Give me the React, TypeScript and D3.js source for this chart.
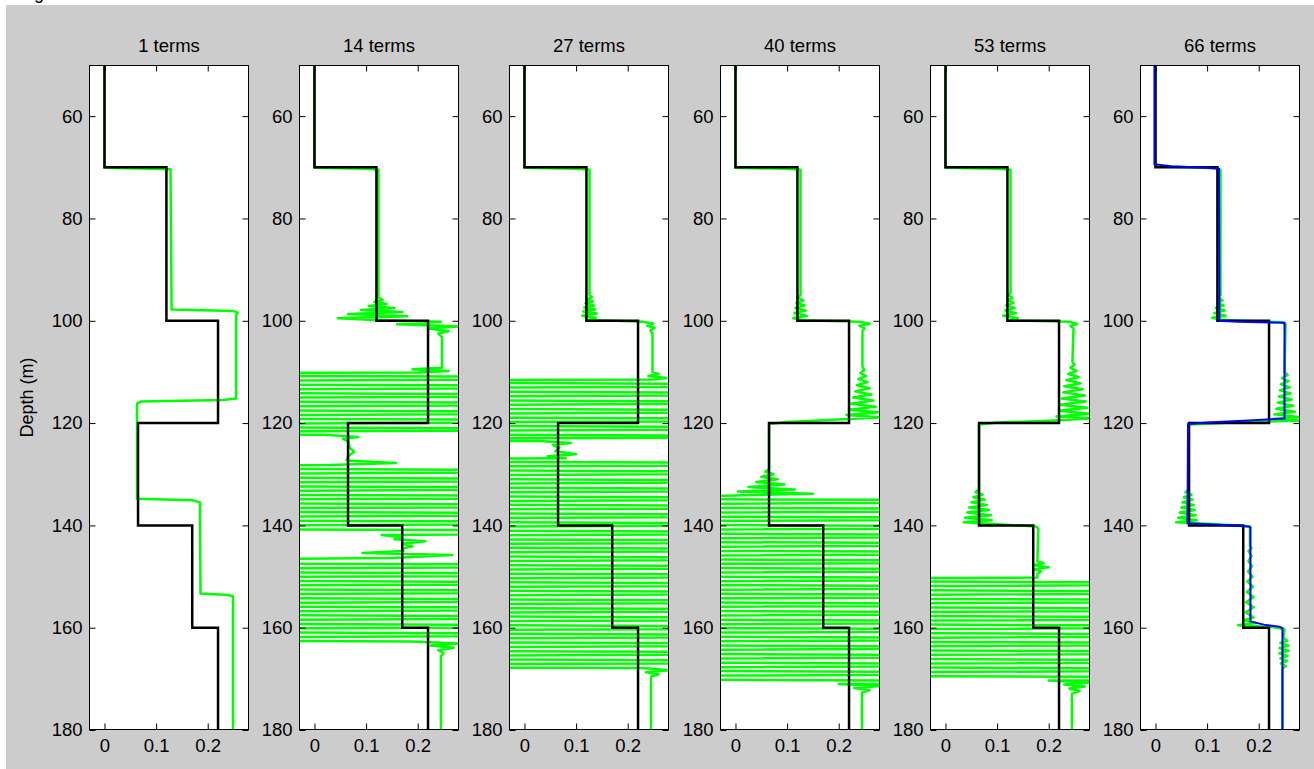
import React, { useEffect, useRef } from 'react';
import * as d3 from 'd3';

// ---- data ----
const panelTitles = ['1 terms', '14 terms', '27 terms', '40 terms', '53 terms', '66 terms'];
const depthTicks = [60, 80, 100, 120, 140, 160, 180];
const valueTicks = [0, 0.1, 0.2];
const depthDomain: [number, number] = [50, 180];
const valueDomain: [number, number] = [-0.03, 0.28];

// true layered model (black)
const modelTops = [50, 70, 100, 120, 140, 160];
const modelValues = [0, 0.12, 0.22, 0.065, 0.17, 0.22];
const modelBottom = 180;

// depths where the unstable fits swing off scale (dense green bands)
const band14a = [110.4, 111.2, 112.1, 112.9, 113.8, 114.6, 115.4, 116.3, 117.1, 118.0, 118.8, 119.6, 120.5, 121.3, 121.9];
const band14b = [128.6, 129.4, 130.3, 131.1, 132.0, 132.8, 133.6, 134.5, 135.3, 136.2, 137.0, 137.8, 138.7, 139.5, 140.4, 141.2];
const band14c = [147.1, 147.9, 148.8, 149.6, 150.5, 151.3, 152.1, 153.0, 153.8, 154.7, 155.5, 156.3, 157.2, 158.0, 158.9, 159.7, 160.5, 161.4, 162.2];
const band27a = [111.8, 112.6, 113.5, 114.3, 115.2, 116.0, 116.8, 117.7, 118.5, 119.4, 120.2, 121.0, 121.9, 122.7, 123.2];
const band27b = [127.2, 128.0, 128.9, 129.7, 130.6, 131.4, 132.2, 133.1, 133.9, 134.8, 135.6, 136.4, 137.3, 138.1, 139.0, 139.8, 140.6, 141.5, 142.3, 143.2, 144.0, 144.8, 145.7, 146.5, 147.4, 148.2, 149.0, 149.9, 150.7, 151.6, 152.4, 153.2, 154.1, 154.9, 155.8, 156.6, 157.4, 158.3, 159.1, 160.0, 160.8, 161.6, 162.5, 163.3, 164.2, 165.0, 165.8, 166.7, 167.5];
const band40 = [134.5, 135.3, 136.2, 137.0, 137.9, 138.7, 139.5, 140.4, 141.2, 142.1, 142.9, 143.7, 144.6, 145.4, 146.3, 147.1, 147.9, 148.8, 149.6, 150.5, 151.3, 152.1, 153.0, 153.8, 154.7, 155.5, 156.3, 157.2, 158.0, 158.9, 159.7, 160.5, 161.4, 162.2, 163.1, 163.9, 164.7, 165.6, 166.4, 167.3, 168.1, 168.9, 169.8, 170.6];
const band53 = [150.6, 151.4, 152.3, 153.1, 154.0, 154.8, 155.6, 156.5, 157.3, 158.2, 159.0, 159.8, 160.7, 161.5, 162.4, 163.2, 164.0, 164.9, 165.7, 166.6, 167.4, 168.2, 169.1, 169.9];

type Pt = [number, number]; // [depth, value]

// off-scale swings alternate far left / far right
function swing(depths: number[]): Pt[] {
  return depths.map((d, i) => [d, i % 2 === 0 ? -1 : 1] as Pt);
}

const green1: Pt[] = [
  [50, 0], [70.1, 0], [70.3, 0.09], [70.4, 0.128], [71, 0.128], [97.8, 0.13], [98.1, 0.25], [98.4, 0.258],
  [99, 0.255], [115.2, 0.255], [115.5, 0.23], [115.8, 0.07], [116.2, 0.063], [134.8, 0.063], [135.1, 0.17],
  [135.5, 0.185], [153.3, 0.186], [153.6, 0.24], [153.9, 0.249], [180, 0.249],
];

const green14: Pt[] = [
  [50, 0], [70.1, 0], [70.3, 0.1], [70.5, 0.124], [95.5, 0.124], [95.9, 0.132], [96.3, 0.116], [96.7, 0.14],
  [97.1, 0.105], [97.5, 0.155], [97.9, 0.09], [98.3, 0.17], [98.7, 0.065], [99.1, 0.18], [99.5, 0.045],
  [99.9, 0.125], [100.2, 0.245], [100.7, 0.16], [101.1, 0.28], [101.5, 0.22], [102, 0.26], [102.5, 0.24],
  [103.2, 0.247], [109.2, 0.247], [109.5, 0.19], [109.8, 0.26], [110.1, 0.2],
  ...swing(band14a),
  [122.3, 0.02], [122.7, 0.085], [123.1, 0.055], [123.6, 0.066], [124.8, 0.068], [125.6, 0.077], [126.4, 0.066],
  [127.3, 0.062], [127.8, 0.158], [128.2, 0.03],
  ...swing(band14b),
  [141.9, 0.13], [142.3, 0.168], [142.7, 0.155], [143.1, 0.215], [143.6, 0.17], [144.1, 0.19], [144.5, 0.172],
  [145.0, 0.172], [145.4, 0.093], [145.8, 0.267], [146.4, 0.15],
  ...swing(band14c),
  [162.7, 0.19], [163.1, 0.28], [163.5, 0.225], [163.9, 0.27], [164.4, 0.24], [165, 0.25], [165.6, 0.245], [180, 0.245],
];

const green27: Pt[] = [
  [50, 0], [70.1, 0], [70.3, 0.1], [70.5, 0.126], [95, 0.126], [95.4, 0.131], [95.8, 0.121], [96.2, 0.133],
  [96.6, 0.118], [97.0, 0.135], [97.4, 0.116], [97.8, 0.137], [98.2, 0.114], [98.6, 0.14], [99.0, 0.112],
  [99.4, 0.138], [99.8, 0.125], [100.2, 0.23], [100.6, 0.25], [101.0, 0.238], [101.4, 0.252], [101.9, 0.244],
  [102.5, 0.248], [110, 0.248], [110.4, 0.26], [110.8, 0.24], [111.2, 0.275], [111.5, 0.25],
  ...swing(band27a),
  [123.5, 0.03], [123.9, 0.09], [124.3, 0.055], [124.8, 0.068], [125.5, 0.06], [126.1, 0.1], [126.5, 0.045], [126.9, 0.08],
  ...swing(band27b),
  [167.9, 0.23], [168.3, 0.28], [168.7, 0.235], [169.1, 0.26], [169.6, 0.245], [180, 0.245],
];

const green40: Pt[] = [
  [50, 0], [70.1, 0], [70.3, 0.1], [70.5, 0.126], [95, 0.126], [95.5, 0.12], [96, 0.132], [96.5, 0.118],
  [97, 0.134], [97.5, 0.116], [98, 0.136], [98.5, 0.114], [99, 0.138], [99.5, 0.112], [99.9, 0.13],
  [100.2, 0.24], [100.6, 0.26], [101.0, 0.24], [101.5, 0.25], [102, 0.246], [109, 0.246], [109.6, 0.25],
  [110.2, 0.242], [110.8, 0.253], [111.4, 0.238], [112, 0.256], [112.6, 0.235], [113.2, 0.26], [113.8, 0.232],
  [114.4, 0.263], [115, 0.228], [115.6, 0.267], [116.2, 0.224], [116.8, 0.272], [117.4, 0.22], [117.9, 0.278],
  [118.4, 0.215], [118.9, 0.285], [119.3, 0.2], [119.8, 0.1], [120.2, 0.065], [129, 0.065], [129.5, 0.058],
  [130, 0.074], [130.5, 0.05], [131, 0.082], [131.5, 0.04], [132, 0.095], [132.5, 0.025], [133, 0.115],
  [133.4, 0.005], [133.8, 0.15], [134.2, -0.02],
  ...swing(band40),
  [171.0, 0.2], [171.4, 0.28], [171.8, 0.23], [172.2, 0.26], [172.7, 0.245], [180, 0.245],
];

const green53: Pt[] = [
  [50, 0], [70.1, 0], [70.3, 0.1], [70.5, 0.126], [94.5, 0.126], [95, 0.122], [95.5, 0.13], [96, 0.12],
  [96.5, 0.132], [97, 0.118], [97.5, 0.134], [98, 0.116], [98.5, 0.137], [99, 0.112], [99.5, 0.14],
  [99.9, 0.125], [100.2, 0.24], [100.6, 0.255], [101, 0.242], [101.5, 0.248], [108, 0.246], [108.6, 0.25],
  [109.2, 0.242], [109.8, 0.254], [110.4, 0.238], [111, 0.258], [111.6, 0.234], [112.2, 0.262], [112.8, 0.23],
  [113.4, 0.266], [114, 0.228], [114.6, 0.27], [115.2, 0.225], [115.8, 0.272], [116.4, 0.222], [117, 0.275],
  [117.6, 0.22], [118.2, 0.28], [118.7, 0.215], [119.1, 0.285], [119.5, 0.21], [119.9, 0.1], [120.3, 0.065],
  [133, 0.065], [133.5, 0.058], [134, 0.072], [134.5, 0.054], [135, 0.076], [135.5, 0.05], [136, 0.08],
  [136.5, 0.046], [137, 0.084], [137.5, 0.042], [138, 0.088], [138.5, 0.038], [139, 0.09], [139.4, 0.035],
  [139.8, 0.1], [140.2, 0.175], [140.6, 0.18], [147, 0.178], [147.4, 0.19], [147.8, 0.17], [148.2, 0.2],
  [148.6, 0.172], [149, 0.185], [149.5, 0.178], [150.2, 0.178],
  ...swing(band53),
  [170.3, 0.2], [170.7, 0.28], [171.1, 0.23], [171.5, 0.27], [171.9, 0.24], [172.4, 0.26], [172.9, 0.245], [180, 0.245],
];

const green66: Pt[] = [
  [50, 0], [69.8, 0], [70.2, 0.12], [70.5, 0.126], [95, 0.126], [95.5, 0.122], [96, 0.13], [96.5, 0.12],
  [97, 0.132], [97.5, 0.117], [98, 0.134], [98.5, 0.114], [99, 0.136], [99.4, 0.11], [99.8, 0.126],
  [100.3, 0.245], [100.7, 0.252], [110, 0.25], [110.6, 0.256], [111.2, 0.245], [111.8, 0.258], [112.4, 0.243],
  [113, 0.26], [113.6, 0.241], [114.2, 0.262], [114.8, 0.239], [115.4, 0.264], [116, 0.237], [116.6, 0.267],
  [117.2, 0.234], [117.8, 0.27], [118.3, 0.23], [118.8, 0.278], [119.2, 0.228], [119.5, 0.285], [119.9, 0.15],
  [120.3, 0.064], [133, 0.064], [133.5, 0.058], [134, 0.07], [134.5, 0.055], [135, 0.072], [135.5, 0.052],
  [136, 0.074], [136.5, 0.05], [137, 0.076], [137.5, 0.047], [138, 0.078], [138.5, 0.044], [139, 0.08],
  [139.4, 0.04], [139.8, 0.12], [140.2, 0.183], [144, 0.183], [144.5, 0.186], [145, 0.18], [146, 0.186],
  [147, 0.18], [148, 0.187], [149, 0.179], [150, 0.188], [151, 0.178], [152, 0.189], [153, 0.177], [154, 0.19],
  [155, 0.176], [156, 0.19], [157, 0.175], [158, 0.19], [158.6, 0.17], [159.1, 0.195], [159.5, 0.16],
  [159.9, 0.23], [160.3, 0.25], [162, 0.248], [162.5, 0.255], [163, 0.242], [163.5, 0.258], [164, 0.24],
  [164.5, 0.258], [165, 0.24], [165.5, 0.256], [166, 0.242], [166.5, 0.255], [167, 0.243], [167.5, 0.253],
  [168, 0.246], [180, 0.246],
];

// final smooth estimate, only on the last panel
const blue66: Pt[] = [
  [50, -0.002], [69.4, -0.002], [69.8, 0.03], [70.1, 0.1], [70.3, 0.123], [100, 0.124], [100.2, 0.16],
  [100.4, 0.25], [119.1, 0.25], [119.5, 0.18], [119.9, 0.1], [120.2, 0.063], [139.6, 0.062], [139.9, 0.12],
  [140.2, 0.18], [140.4, 0.184], [158.8, 0.184], [159.4, 0.21], [159.8, 0.24], [160.1, 0.246], [180, 0.246],
];

const greenSeries = [green1, green14, green27, green40, green53, green66];

const FONT = '"Liberation Sans", Arial, Helvetica, sans-serif';

export default function App() {
  const ref = useRef<SVGSVGElement>(null);

  useEffect(() => {
    const svg = d3.select(ref.current);
    svg.selectAll('*').remove();

    const W = 1314, H = 769;
    const top = 65, bottom = 730, panelW = 160;

    svg.append('rect').attr('width', W).attr('height', H).attr('fill', '#ffffff');
    svg.append('rect').attr('x', 6).attr('y', 5).attr('width', W - 6).attr('height', H - 5).attr('fill', '#cccccc');
    // cut-off window caption, as in the screenshot
    svg.append('text').attr('x', 34).attr('y', -1).style('font-family', FONT).style('font-size', '18px').text('g');

    const y = d3.scaleLinear().domain(depthDomain).range([top, bottom]);

    // black step model as points
    const modelPts: Pt[] = [];
    modelValues.forEach((v, i) => {
      modelPts.push([modelTops[i], v]);
      modelPts.push([i + 1 < modelTops.length ? modelTops[i + 1] : modelBottom, v]);
    });

    panelTitles.forEach((title, i) => {
      const left = Math.round(89 + i * 210.2);
      const x = d3.scaleLinear().domain(valueDomain).range([left, left + panelW]);
      const line = d3.line<Pt>().x(p => x(p[1])).y(p => y(p[0]));

      const g = svg.append('g');
      const clipId = `clip${i}`;
      g.append('clipPath').attr('id', clipId)
        .append('rect').attr('x', left).attr('y', top).attr('width', panelW).attr('height', bottom - top);

      g.append('rect').attr('x', left).attr('y', top).attr('width', panelW).attr('height', bottom - top)
        .attr('fill', '#ffffff');

      const plot = g.append('g').attr('clip-path', `url(#${clipId})`);
      plot.append('path').datum(greenSeries[i]).attr('d', line)
        .attr('fill', 'none').attr('stroke', '#00ff00').attr('stroke-width', 2.5)
        .attr('stroke-linejoin', 'round');
      plot.append('path').datum(modelPts).attr('d', line)
        .attr('fill', 'none').attr('stroke', '#000000').attr('stroke-width', 2.5);
      if (i === panelTitles.length - 1) {
        plot.append('path').datum(blue66).attr('d', line)
          .attr('fill', 'none').attr('stroke', '#0000ff').attr('stroke-width', 2);
      }

      // axes: ticks inside, mirrored on all sides
      const styleAxis = (sel: d3.Selection<SVGGElement, unknown, null, undefined>) => {
        sel.select('.domain').remove();
        sel.selectAll('line').attr('stroke', '#000');
        sel.selectAll('text').style('font-family', FONT).style('font-size', '18.5px').attr('fill', '#000');
      };

      g.append('g').attr('transform', `translate(${left + 0.5},0)`)
        .call(d3.axisLeft(y).tickValues(depthTicks).tickSize(-6).tickPadding(7).tickFormat(d3.format('d')))
        .call(styleAxis);
      g.append('g').attr('transform', `translate(${left + panelW - 0.5},0)`)
        .call(d3.axisRight(y).tickValues(depthTicks).tickSize(-6).tickFormat(() => ''))
        .call(styleAxis);
      g.append('g').attr('transform', `translate(0,${bottom - 0.5})`)
        .call(d3.axisBottom(x).tickValues(valueTicks).tickSize(-6).tickPadding(9).tickFormat(d => String(d)))
        .call(styleAxis);
      g.append('g').attr('transform', `translate(0,${top + 0.5})`)
        .call(d3.axisTop(x).tickValues(valueTicks).tickSize(-6).tickFormat(() => ''))
        .call(styleAxis);

      g.append('rect').attr('x', left + 0.5).attr('y', top + 0.5)
        .attr('width', panelW - 1).attr('height', bottom - top - 1)
        .attr('fill', 'none').attr('stroke', '#000').attr('stroke-width', 1);

      g.append('text')
        .attr('x', left + panelW / 2).attr('y', 52)
        .attr('text-anchor', 'middle')
        .style('font-family', FONT).style('font-size', '18.5px')
        .text(title);
    });

    svg.append('text')
      .attr('transform', `translate(33,${(top + bottom) / 2}) rotate(-90)`)
      .attr('text-anchor', 'middle')
      .style('font-family', FONT).style('font-size', '18px')
      .text('Depth (m)');
  }, []);

  return <svg ref={ref} width={1314} height={769} style={{ position: 'absolute', left: 0, top: 0 }} />;
}
